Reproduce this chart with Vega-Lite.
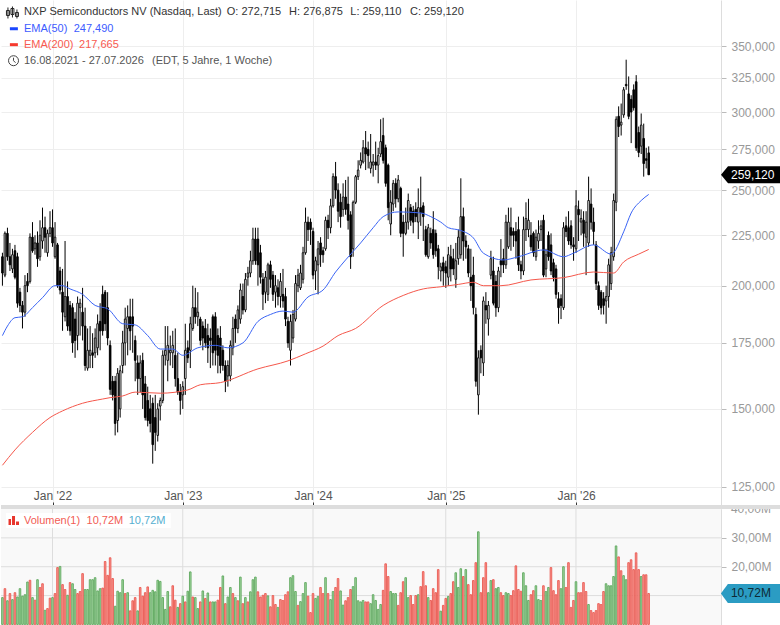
{
"$schema":"https://vega.github.io/schema/vega-lite/v6.json",
"padding":0,
"background":"#ffffff",
"spacing":0,
"bounds":"flush",
"config":{"view":{"stroke":null},"font":"Liberation Sans"},
"datasets":{
"weeks":[
{"w":"2021-08-16","o":214,"h":216,"l":200,"c":206,"v":9.3,"s":"g"},
{"w":"2021-08-23","o":205,"h":227,"l":204,"c":226,"v":12.4,"s":"r"},
{"w":"2021-08-30","o":226,"h":229,"l":212,"c":214,"v":8.2,"s":"g"},
{"w":"2021-09-06","o":214,"h":221,"l":207,"c":210,"v":10.7,"s":"r"},
{"w":"2021-09-13","o":208,"h":218,"l":206,"c":215,"v":8.6,"s":"g"},
{"w":"2021-09-20","o":217,"h":220,"l":203,"c":204,"v":11,"s":"r"},
{"w":"2021-09-27","o":214,"h":216,"l":190,"c":192,"v":9.5,"s":"g"},
{"w":"2021-10-04","o":197,"h":199,"l":188,"c":191,"v":12.4,"s":"g"},
{"w":"2021-10-11","o":191,"h":193,"l":181,"c":188,"v":9.8,"s":"g"},
{"w":"2021-10-18","o":188,"h":205,"l":186,"c":200,"v":10.3,"s":"g"},
{"w":"2021-10-25","o":202,"h":206,"l":197,"c":200,"v":14.7,"s":"g"},
{"w":"2021-11-01","o":202,"h":226,"l":201,"c":224,"v":15.3,"s":"r"},
{"w":"2021-11-08","o":224,"h":232,"l":216,"c":217,"v":9.3,"s":"g"},
{"w":"2021-11-15","o":218,"h":225,"l":215,"c":221,"v":8.4,"s":"r"},
{"w":"2021-11-22","o":221,"h":227,"l":209,"c":213,"v":15.5,"s":"g"},
{"w":"2021-11-29","o":214,"h":233,"l":212,"c":225,"v":12.8,"s":"r"},
{"w":"2021-12-06","o":222,"h":240,"l":218,"c":229,"v":14.1,"s":"r"},
{"w":"2021-12-13","o":229,"h":235,"l":216,"c":224,"v":4.9,"s":"g"},
{"w":"2021-12-20","o":216,"h":228,"l":214,"c":226,"v":5.5,"s":"r"},
{"w":"2021-12-27","o":226,"h":238,"l":224,"c":229,"v":9.1,"s":"r"},
{"w":"2022-01-03","o":229,"h":239,"l":219,"c":221,"v":9.3,"s":"g"},
{"w":"2022-01-10","o":214,"h":232,"l":213,"c":224,"v":10.7,"s":"r"},
{"w":"2022-01-17","o":220,"h":221,"l":199,"c":200,"v":19.7,"s":"r"},
{"w":"2022-01-24","o":207,"h":209,"l":196,"c":198,"v":20.1,"s":"g"},
{"w":"2022-01-31","o":197,"h":208,"l":180,"c":188,"v":13.8,"s":"r"},
{"w":"2022-02-07","o":186,"h":222,"l":184,"c":195,"v":12.1,"s":"r"},
{"w":"2022-02-14","o":195,"h":202,"l":180,"c":182,"v":10.1,"s":"g"},
{"w":"2022-02-21","o":191,"h":193,"l":178,"c":180,"v":14.5,"s":"r"},
{"w":"2022-02-28","o":190,"h":192,"l":171,"c":175,"v":14.1,"s":"g"},
{"w":"2022-03-07","o":185,"h":188,"l":169,"c":176,"v":12.1,"s":"g"},
{"w":"2022-03-14","o":178,"h":195,"l":172,"c":192,"v":10.7,"s":"r"},
{"w":"2022-03-21","o":190,"h":194,"l":178,"c":192,"v":11.4,"s":"r"},
{"w":"2022-03-28","o":188,"h":199,"l":176,"c":182,"v":17.6,"s":"r"},
{"w":"2022-04-04","o":182,"h":190,"l":164,"c":166,"v":12.1,"s":"g"},
{"w":"2022-04-11","o":165,"h":181,"l":164,"c":172,"v":12.1,"s":"g"},
{"w":"2022-04-18","o":170,"h":182,"l":165,"c":172,"v":15.5,"s":"g"},
{"w":"2022-04-25","o":171,"h":179,"l":165,"c":170,"v":15.5,"s":"g"},
{"w":"2022-05-02","o":171,"h":181,"l":169,"c":177,"v":16.2,"s":"g"},
{"w":"2022-05-09","o":173,"h":187,"l":170,"c":183,"v":11.6,"s":"g"},
{"w":"2022-05-16","o":184,"h":192,"l":172,"c":180,"v":12.4,"s":"g"},
{"w":"2022-05-23","o":196,"h":200,"l":178,"c":180,"v":12.6,"s":"r"},
{"w":"2022-05-30","o":197,"h":198,"l":180,"c":183,"v":21.8,"s":"r"},
{"w":"2022-06-06","o":190,"h":197,"l":174,"c":177,"v":17,"s":"r"},
{"w":"2022-06-13","o":174,"h":176,"l":155,"c":157,"v":23.1,"s":"r"},
{"w":"2022-06-20","o":160,"h":162,"l":153,"c":155,"v":15.9,"s":"r"},
{"w":"2022-06-27","o":160,"h":162,"l":141,"c":145,"v":6.3,"s":"g"},
{"w":"2022-07-04","o":146,"h":165,"l":142,"c":163,"v":11.5,"s":"g"},
{"w":"2022-07-11","o":150,"h":166,"l":147,"c":164,"v":11,"s":"g"},
{"w":"2022-07-18","o":166,"h":180,"l":163,"c":175,"v":15.5,"s":"g"},
{"w":"2022-07-25","o":175,"h":190,"l":166,"c":185,"v":10.7,"s":"r"},
{"w":"2022-08-01","o":181,"h":191,"l":170,"c":186,"v":11,"s":"g"},
{"w":"2022-08-08","o":186,"h":194,"l":172,"c":180,"v":4.7,"s":"r"},
{"w":"2022-08-15","o":186,"h":194,"l":171,"c":182,"v":8.2,"s":"r"},
{"w":"2022-08-22","o":176,"h":178,"l":160,"c":168,"v":9.3,"s":"r"},
{"w":"2022-08-29","o":167,"h":170,"l":155,"c":161,"v":4.7,"s":"g"},
{"w":"2022-09-05","o":161,"h":170,"l":156,"c":167,"v":12.8,"s":"r"},
{"w":"2022-09-12","o":168,"h":171,"l":150,"c":155,"v":9.8,"s":"r"},
{"w":"2022-09-19","o":159,"h":162,"l":146,"c":147,"v":11,"s":"r"},
{"w":"2022-09-26","o":153,"h":158,"l":144,"c":146,"v":13,"s":"r"},
{"w":"2022-10-03","o":150,"h":155,"l":142,"c":145,"v":11,"s":"g"},
{"w":"2022-10-10","o":152,"h":154,"l":132,"c":138,"v":11.8,"s":"g"},
{"w":"2022-10-17","o":147,"h":155,"l":136,"c":142,"v":11.3,"s":"g"},
{"w":"2022-10-24","o":141,"h":152,"l":139,"c":150,"v":15.3,"s":"g"},
{"w":"2022-10-31","o":151,"h":154,"l":146,"c":153,"v":14.9,"s":"g"},
{"w":"2022-11-07","o":153,"h":172,"l":152,"c":170,"v":9.3,"s":"g"},
{"w":"2022-11-14","o":170,"h":182,"l":166,"c":172,"v":5.2,"s":"g"},
{"w":"2022-11-21","o":168,"h":182,"l":160,"c":174,"v":11.4,"s":"g"},
{"w":"2022-11-28","o":171,"h":178,"l":166,"c":172,"v":6.1,"s":"r"},
{"w":"2022-12-05","o":171,"h":180,"l":165,"c":174,"v":13.4,"s":"r"},
{"w":"2022-12-12","o":170,"h":181,"l":158,"c":161,"v":8.4,"s":"r"},
{"w":"2022-12-19","o":161,"h":171,"l":155,"c":156,"v":5.9,"s":"g"},
{"w":"2022-12-26","o":156,"h":159,"l":148,"c":153,"v":7.2,"s":"r"},
{"w":"2023-01-02","o":155,"h":160,"l":150,"c":158,"v":9.8,"s":"g"},
{"w":"2023-01-09","o":161,"h":183,"l":155,"c":172,"v":7.8,"s":"r"},
{"w":"2023-01-16","o":173,"h":176,"l":167,"c":169,"v":11.5,"s":"g"},
{"w":"2023-01-23","o":172,"h":186,"l":165,"c":183,"v":18.2,"s":"g"},
{"w":"2023-01-30","o":181,"h":200,"l":180,"c":190,"v":9.5,"s":"r"},
{"w":"2023-02-06","o":190,"h":199,"l":183,"c":186,"v":9.3,"s":"g"},
{"w":"2023-02-13","o":186,"h":197,"l":182,"c":188,"v":5.5,"s":"g"},
{"w":"2023-02-20","o":185,"h":186,"l":174,"c":176,"v":7.8,"s":"r"},
{"w":"2023-02-27","o":182,"h":184,"l":172,"c":177,"v":11.6,"s":"g"},
{"w":"2023-03-06","o":181,"h":185,"l":173,"c":175,"v":9,"s":"r"},
{"w":"2023-03-13","o":178,"h":183,"l":167,"c":173,"v":10.9,"s":"g"},
{"w":"2023-03-20","o":177,"h":181,"l":165,"c":176,"v":7.8,"s":"r"},
{"w":"2023-03-27","o":186,"h":187,"l":166,"c":171,"v":7.8,"s":"g"},
{"w":"2023-04-03","o":186,"h":188,"l":166,"c":172,"v":7.8,"s":"g"},
{"w":"2023-04-10","o":178,"h":181,"l":163,"c":170,"v":8.4,"s":"r"},
{"w":"2023-04-17","o":177,"h":182,"l":163,"c":166,"v":12.8,"s":"r"},
{"w":"2023-04-24","o":172,"h":174,"l":164,"c":166,"v":16.8,"s":"g"},
{"w":"2023-05-01","o":166,"h":168,"l":156,"c":160,"v":7.2,"s":"r"},
{"w":"2023-05-08","o":162,"h":168,"l":158,"c":166,"v":9.5,"s":"g"},
{"w":"2023-05-15","o":162,"h":176,"l":160,"c":174,"v":12.8,"s":"g"},
{"w":"2023-05-22","o":173,"h":186,"l":170,"c":181,"v":10.7,"s":"r"},
{"w":"2023-05-29","o":185,"h":187,"l":175,"c":181,"v":9.3,"s":"g"},
{"w":"2023-06-05","o":181,"h":191,"l":179,"c":189,"v":8.2,"s":"r"},
{"w":"2023-06-12","o":185,"h":201,"l":183,"c":198,"v":16.4,"s":"g"},
{"w":"2023-06-19","o":195,"h":201,"l":187,"c":189,"v":7.2,"s":"r"},
{"w":"2023-06-26","o":189,"h":206,"l":188,"c":203,"v":9.3,"s":"g"},
{"w":"2023-07-03","o":204,"h":209,"l":200,"c":206,"v":7.8,"s":"r"},
{"w":"2023-07-10","o":206,"h":217,"l":204,"c":212,"v":11.3,"s":"g"},
{"w":"2023-07-17","o":212,"h":229,"l":210,"c":223,"v":15.5,"s":"g"},
{"w":"2023-07-24","o":223,"h":229,"l":210,"c":212,"v":16.4,"s":"g"},
{"w":"2023-07-31","o":223,"h":229,"l":200,"c":210,"v":11.3,"s":"r"},
{"w":"2023-08-07","o":216,"h":220,"l":201,"c":204,"v":9.5,"s":"r"},
{"w":"2023-08-14","o":203,"h":206,"l":189,"c":196,"v":10.1,"s":"r"},
{"w":"2023-08-21","o":197,"h":207,"l":192,"c":204,"v":10.7,"s":"r"},
{"w":"2023-08-28","o":196,"h":211,"l":193,"c":210,"v":9.9,"s":"g"},
{"w":"2023-09-04","o":210,"h":212,"l":199,"c":203,"v":6.1,"s":"r"},
{"w":"2023-09-11","o":205,"h":207,"l":193,"c":196,"v":10,"s":"r"},
{"w":"2023-09-18","o":197,"h":205,"l":190,"c":200,"v":6.9,"s":"r"},
{"w":"2023-09-25","o":199,"h":203,"l":191,"c":195,"v":5.9,"s":"g"},
{"w":"2023-10-02","o":195,"h":206,"l":190,"c":202,"v":8.6,"s":"r"},
{"w":"2023-10-09","o":196,"h":208,"l":190,"c":193,"v":8.3,"s":"r"},
{"w":"2023-10-16","o":195,"h":199,"l":182,"c":185,"v":10.3,"s":"r"},
{"w":"2023-10-23","o":184,"h":186,"l":173,"c":175,"v":11.3,"s":"r"},
{"w":"2023-10-30","o":172,"h":187,"l":166,"c":184,"v":16.2,"s":"g"},
{"w":"2023-11-06","o":177,"h":189,"l":175,"c":187,"v":16.9,"s":"g"},
{"w":"2023-11-13","o":185,"h":205,"l":184,"c":201,"v":11.4,"s":"g"},
{"w":"2023-11-20","o":200,"h":208,"l":197,"c":205,"v":6.6,"s":"r"},
{"w":"2023-11-27","o":199,"h":210,"l":198,"c":206,"v":7.9,"s":"g"},
{"w":"2023-12-04","o":203,"h":219,"l":201,"c":216,"v":10.7,"s":"g"},
{"w":"2023-12-11","o":216,"h":240,"l":215,"c":232,"v":14.5,"s":"g"},
{"w":"2023-12-18","o":232,"h":235,"l":222,"c":228,"v":9.8,"s":"r"},
{"w":"2023-12-25","o":232,"h":234,"l":220,"c":228,"v":4.1,"s":"r"},
{"w":"2024-01-01","o":227,"h":229,"l":203,"c":205,"v":10.7,"s":"r"},
{"w":"2024-01-08","o":207,"h":214,"l":198,"c":212,"v":9,"s":"g"},
{"w":"2024-01-15","o":210,"h":222,"l":196,"c":218,"v":9.7,"s":"g"},
{"w":"2024-01-22","o":221,"h":224,"l":209,"c":215,"v":12.8,"s":"r"},
{"w":"2024-01-29","o":217,"h":219,"l":211,"c":215,"v":10.7,"s":"r"},
{"w":"2024-02-05","o":218,"h":235,"l":217,"c":233,"v":16.2,"s":"g"},
{"w":"2024-02-12","o":233,"h":236,"l":223,"c":229,"v":10.7,"s":"r"},
{"w":"2024-02-19","o":229,"h":245,"l":226,"c":241,"v":8.6,"s":"g"},
{"w":"2024-02-26","o":241,"h":260,"l":240,"c":258,"v":11.4,"s":"g"},
{"w":"2024-03-04","o":258,"h":267,"l":245,"c":250,"v":12.8,"s":"r"},
{"w":"2024-03-11","o":250,"h":254,"l":232,"c":238,"v":15.9,"s":"r"},
{"w":"2024-03-18","o":243,"h":248,"l":229,"c":235,"v":11.6,"s":"g"},
{"w":"2024-03-25","o":239,"h":254,"l":235,"c":246,"v":6.7,"s":"g"},
{"w":"2024-04-01","o":246,"h":256,"l":236,"c":239,"v":8.2,"s":"r"},
{"w":"2024-04-08","o":242,"h":258,"l":228,"c":233,"v":9.3,"s":"r"},
{"w":"2024-04-15","o":236,"h":238,"l":208,"c":214,"v":12.1,"s":"r"},
{"w":"2024-04-22","o":218,"h":244,"l":214,"c":243,"v":13.1,"s":"g"},
{"w":"2024-04-29","o":243,"h":259,"l":242,"c":258,"v":16.2,"s":"g"},
{"w":"2024-05-06","o":258,"h":268,"l":256,"c":262,"v":8.2,"s":"g"},
{"w":"2024-05-13","o":265,"h":273,"l":263,"c":268,"v":7.8,"s":"g"},
{"w":"2024-05-20","o":267,"h":281,"l":266,"c":276,"v":8.3,"s":"g"},
{"w":"2024-05-27","o":276,"h":287,"l":262,"c":272,"v":7.8,"s":"r"},
{"w":"2024-06-03","o":275,"h":280,"l":263,"c":271,"v":7.8,"s":"r"},
{"w":"2024-06-10","o":263,"h":285,"l":260,"c":267,"v":7.2,"s":"g"},
{"w":"2024-06-17","o":265,"h":272,"l":258,"c":267,"v":10.3,"s":"g"},
{"w":"2024-06-24","o":267,"h":280,"l":262,"c":265,"v":8.3,"s":"g"},
{"w":"2024-07-01","o":265,"h":276,"l":254,"c":271,"v":5.2,"s":"g"},
{"w":"2024-07-08","o":272,"h":295,"l":270,"c":280,"v":6.9,"s":"g"},
{"w":"2024-07-15","o":284,"h":296,"l":266,"c":268,"v":11.8,"s":"r"},
{"w":"2024-07-22","o":276,"h":278,"l":252,"c":254,"v":21,"s":"r"},
{"w":"2024-07-29","o":265,"h":266,"l":233,"c":240,"v":16.6,"s":"r"},
{"w":"2024-08-05","o":231,"h":250,"l":225,"c":243,"v":11.4,"s":"g"},
{"w":"2024-08-12","o":242,"h":256,"l":238,"c":254,"v":10.7,"s":"g"},
{"w":"2024-08-19","o":254,"h":257,"l":240,"c":245,"v":10.7,"s":"g"},
{"w":"2024-08-26","o":245,"h":259,"l":243,"c":256,"v":6.6,"s":"r"},
{"w":"2024-09-02","o":251,"h":252,"l":224,"c":226,"v":11,"s":"r"},
{"w":"2024-09-09","o":232,"h":236,"l":214,"c":226,"v":14.8,"s":"r"},
{"w":"2024-09-16","o":226,"h":240,"l":225,"c":232,"v":16.2,"s":"g"},
{"w":"2024-09-23","o":232,"h":248,"l":228,"c":244,"v":9.3,"s":"g"},
{"w":"2024-09-30","o":240,"h":242,"l":230,"c":233,"v":10,"s":"r"},
{"w":"2024-10-07","o":238,"h":241,"l":226,"c":232,"v":6.9,"s":"r"},
{"w":"2024-10-14","o":239,"h":243,"l":232,"c":235,"v":10,"s":"r"},
{"w":"2024-10-21","o":232,"h":251,"l":223,"c":240,"v":10.3,"s":"g"},
{"w":"2024-10-28","o":240,"h":258,"l":230,"c":237,"v":13.1,"s":"r"},
{"w":"2024-11-04","o":241,"h":243,"l":222,"c":235,"v":18.3,"s":"r"},
{"w":"2024-11-11","o":228,"h":230,"l":214,"c":215,"v":13.4,"s":"r"},
{"w":"2024-11-18","o":214,"h":231,"l":213,"c":229,"v":9.3,"s":"g"},
{"w":"2024-11-25","o":226,"h":229,"l":218,"c":221,"v":8.3,"s":"r"},
{"w":"2024-12-02","o":228,"h":238,"l":213,"c":215,"v":12.4,"s":"r"},
{"w":"2024-12-09","o":226,"h":228,"l":214,"c":217,"v":11,"s":"r"},
{"w":"2024-12-16","o":218,"h":220,"l":203,"c":209,"v":19,"s":"r"},
{"w":"2024-12-23","o":207,"h":211,"l":202,"c":209,"v":4.6,"s":"g"},
{"w":"2024-12-30","o":211,"h":214,"l":200,"c":207,"v":6.6,"s":"r"},
{"w":"2025-01-06","o":209,"h":212,"l":199,"c":206,"v":9,"s":"r"},
{"w":"2025-01-13","o":204,"h":219,"l":200,"c":215,"v":9.7,"s":"g"},
{"w":"2025-01-20","o":214,"h":220,"l":202,"c":208,"v":10.7,"s":"r"},
{"w":"2025-01-27","o":213,"h":218,"l":205,"c":208,"v":14.8,"s":"r"},
{"w":"2025-02-03","o":203,"h":221,"l":199,"c":212,"v":17.9,"s":"g"},
{"w":"2025-02-10","o":213,"h":228,"l":210,"c":224,"v":12.8,"s":"g"},
{"w":"2025-02-17","o":215,"h":257,"l":213,"c":235,"v":19.3,"s":"g"},
{"w":"2025-02-24","o":235,"h":240,"l":212,"c":222,"v":16.6,"s":"r"},
{"w":"2025-03-03","o":222,"h":225,"l":213,"c":219,"v":19,"s":"g"},
{"w":"2025-03-10","o":218,"h":220,"l":204,"c":206,"v":13.8,"s":"r"},
{"w":"2025-03-17","o":204,"h":218,"l":193,"c":200,"v":10.3,"s":"r"},
{"w":"2025-03-24","o":205,"h":214,"l":187,"c":190,"v":15.2,"s":"r"},
{"w":"2025-03-31","o":187,"h":190,"l":158,"c":160,"v":21.4,"s":"r"},
{"w":"2025-04-07","o":155,"h":172,"l":148,"c":169,"v":32.1,"s":"g"},
{"w":"2025-04-14","o":172,"h":174,"l":163,"c":169,"v":11,"s":"r"},
{"w":"2025-04-21","o":167,"h":195,"l":162,"c":193,"v":16.2,"s":"r"},
{"w":"2025-04-28","o":191,"h":197,"l":183,"c":189,"v":21.4,"s":"r"},
{"w":"2025-05-05","o":185,"h":193,"l":178,"c":191,"v":11,"s":"g"},
{"w":"2025-05-12","o":205,"h":217,"l":203,"c":213,"v":15.2,"s":"g"},
{"w":"2025-05-19","o":207,"h":214,"l":191,"c":192,"v":15.5,"s":"r"},
{"w":"2025-05-26","o":202,"h":205,"l":186,"c":190,"v":12.4,"s":"g"},
{"w":"2025-06-02","o":190,"h":209,"l":188,"c":207,"v":12.8,"s":"g"},
{"w":"2025-06-09","o":212,"h":223,"l":204,"c":210,"v":11,"s":"r"},
{"w":"2025-06-16","o":213,"h":218,"l":206,"c":210,"v":10,"s":"r"},
{"w":"2025-06-23","o":210,"h":236,"l":208,"c":232,"v":11,"s":"g"},
{"w":"2025-06-30","o":219,"h":240,"l":218,"c":232,"v":10.7,"s":"g"},
{"w":"2025-07-07","o":229,"h":240,"l":217,"c":225,"v":10,"s":"r"},
{"w":"2025-07-14","o":227,"h":229,"l":219,"c":225,"v":11.7,"s":"r"},
{"w":"2025-07-21","o":227,"h":232,"l":213,"c":222,"v":20.3,"s":"r"},
{"w":"2025-07-28","o":228,"h":235,"l":207,"c":210,"v":12.1,"s":"r"},
{"w":"2025-08-04","o":210,"h":212,"l":203,"c":207,"v":11.5,"s":"r"},
{"w":"2025-08-11","o":207,"h":235,"l":205,"c":228,"v":17.9,"s":"g"},
{"w":"2025-08-18","o":228,"h":243,"l":222,"c":234,"v":13.4,"s":"g"},
{"w":"2025-08-25","o":228,"h":245,"l":224,"c":233,"v":8.3,"s":"g"},
{"w":"2025-09-01","o":225,"h":232,"l":217,"c":219,"v":10.3,"s":"r"},
{"w":"2025-09-08","o":226,"h":227,"l":214,"c":216,"v":11.7,"s":"r"},
{"w":"2025-09-15","o":214,"h":228,"l":212,"c":224,"v":13.4,"s":"g"},
{"w":"2025-09-22","o":222,"h":233,"l":218,"c":226,"v":8.6,"s":"g"},
{"w":"2025-09-29","o":228,"h":233,"l":222,"c":230,"v":8.3,"s":"g"},
{"w":"2025-10-06","o":233,"h":236,"l":204,"c":205,"v":13.4,"s":"r"},
{"w":"2025-10-13","o":208,"h":218,"l":204,"c":215,"v":11.4,"s":"g"},
{"w":"2025-10-20","o":225,"h":227,"l":212,"c":214,"v":12.8,"s":"g"},
{"w":"2025-10-27","o":220,"h":226,"l":205,"c":207,"v":19.7,"s":"r"},
{"w":"2025-11-03","o":211,"h":213,"l":202,"c":204,"v":11.7,"s":"r"},
{"w":"2025-11-10","o":208,"h":210,"l":194,"c":196,"v":10.3,"s":"r"},
{"w":"2025-11-17","o":194,"h":197,"l":183,"c":190,"v":15.2,"s":"r"},
{"w":"2025-11-24","o":194,"h":196,"l":185,"c":191,"v":12.4,"s":"g"},
{"w":"2025-12-01","o":190,"h":232,"l":189,"c":229,"v":20,"s":"g"},
{"w":"2025-12-08","o":230,"h":235,"l":224,"c":227,"v":12.8,"s":"r"},
{"w":"2025-12-15","o":229,"h":238,"l":220,"c":222,"v":21.4,"s":"r"},
{"w":"2025-12-22","o":230,"h":233,"l":218,"c":220,"v":5.9,"s":"r"},
{"w":"2025-12-29","o":220,"h":224,"l":212,"c":219,"v":8.3,"s":"r"},
{"w":"2026-01-05","o":218,"h":250,"l":216,"c":241,"v":14.8,"s":"g"},
{"w":"2026-01-12","o":239,"h":244,"l":222,"c":236,"v":11,"s":"r"},
{"w":"2026-01-19","o":232,"h":239,"l":225,"c":234,"v":11,"s":"r"},
{"w":"2026-01-26","o":233,"h":238,"l":219,"c":226,"v":14.5,"s":"r"},
{"w":"2026-02-02","o":224,"h":238,"l":205,"c":232,"v":11.4,"s":"r"},
{"w":"2026-02-09","o":221,"h":258,"l":219,"c":244,"v":6.9,"s":"g"},
{"w":"2026-02-16","o":242,"h":251,"l":228,"c":232,"v":4.8,"s":"r"},
{"w":"2026-02-23","o":232,"h":240,"l":220,"c":227,"v":4.1,"s":"r"},
{"w":"2026-03-02","o":220,"h":222,"l":198,"c":201,"v":4.8,"s":"r"},
{"w":"2026-03-09","o":200,"h":202,"l":189,"c":191,"v":7.2,"s":"r"},
{"w":"2026-03-16","o":197,"h":198,"l":187,"c":190,"v":6.9,"s":"r"},
{"w":"2026-03-23","o":194,"h":197,"l":187,"c":191,"v":11.4,"s":"r"},
{"w":"2026-03-30","o":193,"h":200,"l":183,"c":195,"v":14.1,"s":"g"},
{"w":"2026-04-06","o":195,"h":213,"l":190,"c":210,"v":13.4,"s":"g"},
{"w":"2026-04-13","o":201,"h":219,"l":198,"c":216,"v":13.4,"s":"g"},
{"w":"2026-04-20","o":214,"h":248,"l":212,"c":244,"v":16.6,"s":"g"},
{"w":"2026-04-27","o":243,"h":297,"l":238,"c":295,"v":27.2,"s":"g"},
{"w":"2026-05-04","o":297,"h":304,"l":283,"c":290,"v":23.4,"s":"r"},
{"w":"2026-05-11","o":291,"h":306,"l":284,"c":293,"v":18.6,"s":"r"},
{"w":"2026-05-18","o":298,"h":318,"l":296,"c":316,"v":16.9,"s":"g"},
{"w":"2026-05-25","o":320,"h":339,"l":316,"c":319,"v":15.5,"s":"g"},
{"w":"2026-06-01","o":313,"h":326,"l":295,"c":297,"v":21.4,"s":"r"},
{"w":"2026-06-08","o":309,"h":312,"l":279,"c":300,"v":22.4,"s":"r"},
{"w":"2026-06-15","o":316,"h":320,"l":301,"c":303,"v":19,"s":"r"},
{"w":"2026-06-22","o":322,"h":327,"l":274,"c":276,"v":24.8,"s":"r"},
{"w":"2026-06-29","o":286,"h":290,"l":270,"c":273,"v":19,"s":"r"},
{"w":"2026-07-06","o":277,"h":299,"l":272,"c":291,"v":16.6,"s":"g"},
{"w":"2026-07-13","o":282,"h":292,"l":258,"c":266,"v":17.2,"s":"r"},
{"w":"2026-07-20","o":269,"h":276,"l":263,"c":268,"v":17.2,"s":"r"},
{"w":"2026-07-27","o":272.715,"h":276.875,"l":259.11,"c":259.12,"v":10.72,"s":"r"}
],
"ema50":[
{"w":"2021-08-16","p":178},{"w":"2021-08-30","p":182},{"w":"2021-09-20","p":185.6},{"w":"2021-10-11","p":186},{"w":"2021-11-08","p":190},{"w":"2021-12-06","p":194.5},{"w":"2022-01-10","p":200},{"w":"2022-01-31","p":200},{"w":"2022-02-21","p":198.5},{"w":"2022-03-28","p":196},{"w":"2022-05-02","p":191},{"w":"2022-06-06","p":189.5},{"w":"2022-07-18","p":183},{"w":"2022-08-22","p":182.5},{"w":"2022-09-26","p":178},{"w":"2022-10-31","p":172.5},{"w":"2022-12-05","p":172.5},{"w":"2023-01-02","p":170},{"w":"2023-02-13","p":173},{"w":"2023-04-03","p":174},{"w":"2023-05-08","p":173},{"w":"2023-06-19","p":175},{"w":"2023-07-31","p":184},{"w":"2023-09-04","p":187},{"w":"2023-10-09","p":188.5},{"w":"2023-11-06","p":188},{"w":"2023-12-18","p":194.8},{"w":"2024-01-29","p":198},{"w":"2024-03-04","p":206.5},{"w":"2024-04-01","p":212.4},{"w":"2024-05-13","p":221},{"w":"2024-06-17","p":229},{"w":"2024-07-15","p":235},{"w":"2024-08-26","p":237.6},{"w":"2024-10-28","p":237},{"w":"2024-11-25","p":235},{"w":"2024-12-23","p":232},{"w":"2025-01-13","p":229},{"w":"2025-02-17","p":227.5},{"w":"2025-03-24","p":223.6},{"w":"2025-04-21","p":215.8},{"w":"2025-06-16","p":212.4},{"w":"2025-07-28","p":214},{"w":"2025-10-06","p":217.4},{"w":"2025-12-01","p":214},{"w":"2025-12-29","p":215.8},{"w":"2026-02-23","p":220},{"w":"2026-04-13","p":215.3},{"w":"2026-05-18","p":226.8},{"w":"2026-06-08","p":237},{"w":"2026-07-06","p":244},{"w":"2026-07-27","p":247.49}
],
"ema200":[
{"w":"2021-08-16","p":131.5},{"w":"2021-09-20","p":136.3},{"w":"2021-11-08","p":142},{"w":"2021-12-27","p":147},{"w":"2022-01-31","p":149.3},{"w":"2022-03-28","p":152},{"w":"2022-05-23","p":153.5},{"w":"2022-06-13","p":154},{"w":"2022-07-18","p":154.6},{"w":"2022-08-22","p":156},{"w":"2022-10-31","p":155.6},{"w":"2023-01-16","p":156.8},{"w":"2023-02-20","p":158.7},{"w":"2023-04-17","p":159.5},{"w":"2023-07-31","p":164.7},{"w":"2023-10-23","p":167.8},{"w":"2023-12-11","p":170.6},{"w":"2024-01-29","p":173.7},{"w":"2024-03-11","p":178},{"w":"2024-04-29","p":181},{"w":"2024-07-15","p":191},{"w":"2024-09-09","p":195.5},{"w":"2024-11-04","p":198.5},{"w":"2024-12-23","p":199.5},{"w":"2025-02-10","p":200.6},{"w":"2025-03-24","p":201.6},{"w":"2025-04-21","p":200},{"w":"2025-06-09","p":200},{"w":"2025-09-01","p":202.7},{"w":"2025-12-01","p":203.8},{"w":"2026-02-23","p":206.5},{"w":"2026-04-20","p":206},{"w":"2026-05-18","p":211.4},{"w":"2026-06-29","p":215.3},{"w":"2026-07-27","p":217.665}
],
"years":[{"w":"2022-01-03"},{"w":"2023-01-02"},{"w":"2024-01-01"},{"w":"2025-01-06"},{"w":"2026-01-05"}],
"levels":[{"m":10},{"m":20},{"m":30}]
},
"vconcat":[
{
"width":720,
"height":509,
"data":{"name":"weeks"},
"layer":[
{"mark":{"type":"rule","color":"#000000","strokeWidth":1},
"encoding":{
"x":{"field":"w","type":"temporal","title":null,
"scale":{"padding":0,"domain":[{"year":2021,"month":8,"date":12},{"year":2027,"month":2,"date":14}]},
"axis":{"values":[{"year":2022,"month":1,"date":3},{"year":2023,"month":1,"date":2},{"year":2024,"month":1,"date":1},{"year":2025,"month":1,"date":6},{"year":2026,"month":1,"date":5}],"format":"%b '%y","grid":true,"gridColor":"#eeeeee","domain":false,"offset":-4,"tickSize":-3,"tickColor":"#333333","labelColor":"#555555","labelFontSize":12,"labelPadding":-12,"labelFlush":false,"labelOverlap":false}},
"y":{"field":"l","type":"quantitative","title":null,
"scale":{"type":"log","domain":[118.74,389.7],"nice":false},
"axis":{"orient":"right","values":[125,150,175,200,225,250,275,300,325,350],"labelExpr":"replace(format(datum.value,'.3f'),'.',',')","grid":true,"gridColor":"#eeeeee","domainColor":"#dddddd","tickColor":"#bbbbbb","tickSize":5,"labelColor":"#999999","labelFontSize":12,"labelPadding":5,"labelOverlap":false}},
"y2":{"field":"h"}}},
{"mark":{"type":"bar","width":1.6,"stroke":"#000000","strokeWidth":0.9},
"encoding":{
"x":{"field":"w","type":"temporal"},
"y":{"field":"o","type":"quantitative"},
"y2":{"field":"c"},
"fill":{"condition":{"test":"datum.c<datum.o","value":"#000000"},"value":"#ffffff"}}},
{"data":{"name":"ema50"},"mark":{"type":"line","color":"#3a64f5","strokeWidth":1,"interpolate":"monotone"},
"encoding":{"x":{"field":"w","type":"temporal"},"y":{"field":"p","type":"quantitative"}}},
{"data":{"name":"ema200"},"mark":{"type":"line","color":"#f5574b","strokeWidth":1,"interpolate":"monotone"},
"encoding":{"x":{"field":"w","type":"temporal"},"y":{"field":"p","type":"quantitative"}}},
{"data":{"values":[{"t":"NXP Semiconductors NV (Nasdaq, Last)"}]},"mark":{"type":"text","align":"left","baseline":"middle","fontSize":11,"color":"#333333"},
"encoding":{"x":{"datum":{"year":2021,"month":10,"date":15},"type":"temporal"},"y":{"datum":378.5},"text":{"field":"t"}}},
{"data":{"values":[{"t":"O: 272,715"}]},"mark":{"type":"text","align":"left","baseline":"middle","fontSize":11,"color":"#333333"},
"encoding":{"x":{"datum":{"year":2023,"month":5,"date":5},"type":"temporal"},"y":{"datum":378.5},"text":{"field":"t"}}},
{"data":{"values":[{"t":"H: 276,875"}]},"mark":{"type":"text","align":"left","baseline":"middle","fontSize":11,"color":"#333333"},
"encoding":{"x":{"datum":{"year":2023,"month":10,"date":26},"type":"temporal"},"y":{"datum":378.5},"text":{"field":"t"}}},
{"data":{"values":[{"t":"L: 259,110"}]},"mark":{"type":"text","align":"left","baseline":"middle","fontSize":11,"color":"#333333"},
"encoding":{"x":{"datum":{"year":2024,"month":4,"date":14},"type":"temporal"},"y":{"datum":378.5},"text":{"field":"t"}}},
{"data":{"values":[{"t":"C: 259,120"}]},"mark":{"type":"text","align":"left","baseline":"middle","fontSize":11,"color":"#333333"},
"encoding":{"x":{"datum":{"year":2024,"month":9,"date":28},"type":"temporal"},"y":{"datum":378.5},"text":{"field":"t"}}},
{"data":{"values":[{"t":"EMA(50)"}]},"mark":{"type":"text","align":"left","baseline":"middle","fontSize":11,"color":"#3d5cff"},
"encoding":{"x":{"datum":{"year":2021,"month":10,"date":15},"type":"temporal"},"y":{"datum":364.4},"text":{"field":"t"}}},
{"data":{"values":[{"t":"247,490"}]},"mark":{"type":"text","align":"left","baseline":"middle","fontSize":11,"color":"#3d5cff"},
"encoding":{"x":{"datum":{"year":2022,"month":3,"date":3},"type":"temporal"},"y":{"datum":364.4},"text":{"field":"t"}}},
{"data":{"values":[{"t":"EMA(200)"}]},"mark":{"type":"text","align":"left","baseline":"middle","fontSize":11,"color":"#f85a50"},
"encoding":{"x":{"datum":{"year":2021,"month":10,"date":15},"type":"temporal"},"y":{"datum":351.1},"text":{"field":"t"}}},
{"data":{"values":[{"t":"217,665"}]},"mark":{"type":"text","align":"left","baseline":"middle","fontSize":11,"color":"#f85a50"},
"encoding":{"x":{"datum":{"year":2022,"month":3,"date":18},"type":"temporal"},"y":{"datum":351.1},"text":{"field":"t"}}},
{"data":{"values":[{"t":"16.08.2021 - 27.07.2026"}]},"mark":{"type":"text","align":"left","baseline":"middle","fontSize":11,"color":"#555555"},
"encoding":{"x":{"datum":{"year":2021,"month":10,"date":15},"type":"temporal"},"y":{"datum":338.2},"text":{"field":"t"}}},
{"data":{"values":[{"t":"(EDT, 5 Jahre, 1 Woche)"}]},"mark":{"type":"text","align":"left","baseline":"middle","fontSize":11,"color":"#555555"},
"encoding":{"x":{"datum":{"year":2022,"month":10,"date":8},"type":"temporal"},"y":{"datum":338.2},"text":{"field":"t"}}},
{"data":{"values":[{"t":"candles"}]},"mark":{"type":"point","size":4,"filled":false,"stroke":"#222222","strokeWidth":1,"opacity":1,"shape":"M-4.5,-5V6M0,-6V5M4.5,-3V6M-6,-2H-3V3H-6ZM-1.5,-4H1.5V2H-1.5ZM3,0H6V4H3Z"},
"encoding":{"x":{"datum":{"year":2021,"month":9,"date":13},"type":"temporal"},"y":{"datum":378.5}}},
{"data":{"values":[{"t":"ema50"}]},"mark":{"type":"point","size":4,"filled":true,"color":"#1a46ff","opacity":1,"shape":"M-4,-1.5H4V1.5H-4Z"},
"encoding":{"x":{"datum":{"year":2021,"month":9,"date":17},"type":"temporal"},"y":{"datum":364.4}}},
{"data":{"values":[{"t":"ema200"}]},"mark":{"type":"point","size":4,"filled":true,"color":"#f63a2e","opacity":1,"shape":"M-4,-1.5H4V1.5H-4Z"},
"encoding":{"x":{"datum":{"year":2021,"month":9,"date":17},"type":"temporal"},"y":{"datum":351.1}}},
{"data":{"values":[{"t":"clock"}]},"mark":{"type":"point","size":4,"filled":false,"stroke":"#444444","strokeWidth":1,"opacity":1,"shape":"M-5,0A5,5 0 1 1 5,0A5,5 0 1 1 -5,0ZM0,-3V0L2,2"},
"encoding":{"x":{"datum":{"year":2021,"month":9,"date":16},"type":"temporal"},"y":{"datum":338.2}}},
{"data":{"values":[{"c":259.12,"t":"259,120"}]},"mark":{"type":"point","size":4,"filled":true,"color":"#000000","opacity":1,"shape":"M0,0L7,-8.5L60,-8.5L60,8.5L7,8.5Z"},
"encoding":{"x":{"datum":{"year":2027,"month":2,"date":14},"type":"temporal"},"y":{"field":"c","type":"quantitative"}}},
{"data":{"values":[{"c":259.12,"t":"259,120"}]},"mark":{"type":"text","align":"left","baseline":"middle","fontSize":12,"color":"#ffffff"},
"encoding":{"x":{"datum":{"year":2027,"month":3,"date":14},"type":"temporal"},"y":{"field":"c","type":"quantitative"},"text":{"field":"t"}}},
{"data":{"values":[{"t":"separator"}]},"mark":{"type":"rect","color":"#dddddd"},
"encoding":{"x":{"datum":{"year":2021,"month":8,"date":12},"type":"temporal"},"x2":{"datum":{"year":2027,"month":8,"date":1}},"y":{"datum":119.85},"y2":{"datum":118.74}}}
]
},
{
"width":780,
"height":116,
"data":{"name":"weeks"},
"layer":[
{"data":{"name":"levels"},"mark":{"type":"rect","color":"#f9f9f9"},
"encoding":{
"x":{"datum":{"year":2021,"month":8,"date":12},"type":"temporal","title":null,"axis":null,
"scale":{"padding":0,"domain":[{"year":2021,"month":8,"date":12},{"year":2027,"month":8,"date":1}]}},
"x2":{"datum":{"year":2027,"month":2,"date":14}},
"y":{"datum":-0.2,"scale":{"domain":[-0.2,40],"nice":false,"zero":false}},
"y2":{"datum":40}}},
{"data":{"name":"levels"},"mark":{"type":"rule","color":"#dddddd","strokeWidth":1},
"encoding":{"x":{"datum":{"year":2021,"month":8,"date":12},"type":"temporal"},"x2":{"datum":{"year":2027,"month":2,"date":14}},
"y":{"field":"m","type":"quantitative","title":null,
"axis":{"title":null,"orient":"right","offset":-60,"values":[20,30],"labelExpr":"replace(format(datum.value,'.2f'),'.',',')+'M'","grid":false,"domainColor":"#dddddd","tickColor":"#bbbbbb","tickSize":5,"labelColor":"#999999","labelFontSize":12,"labelPadding":5,"labelOverlap":false}}}},
{"data":{"name":"years"},"mark":{"type":"rule","color":"#dddddd","strokeWidth":1},
"encoding":{"x":{"field":"w","type":"temporal","title":null}}},
{"mark":{"type":"bar","width":1.6,"strokeWidth":0.9},
"encoding":{
"x":{"field":"w","type":"temporal","title":null},
"y":{"field":"v","type":"quantitative","title":null},
"fill":{"field":"s","type":"nominal","legend":null,"scale":{"domain":["g","r"],"range":["#a3d6a0","#f9968f"]}},
"stroke":{"field":"s","type":"nominal","legend":null,"scale":{"domain":["g","r"],"range":["#5fa85f","#ea5a52"]}}}},
{"data":{"values":[{"t":"box"}]},"mark":{"type":"rect","color":"#ffffff","opacity":0.9},
"encoding":{"x":{"datum":{"year":2021,"month":8,"date":26},"type":"temporal"},"x2":{"datum":{"year":2022,"month":11,"date":30}},"y":{"datum":38.6},"y2":{"datum":33.4}}},
{"data":{"values":[{"t":"bars"}]},"mark":{"type":"point","size":4,"filled":true,"color":"#e8352c","opacity":1,"shape":"M-5,4.5H-2.5V-1.5H-5ZM-1.5,4.5H1.5V-4.5H-1.5ZM2.5,4.5H5.5V1H2.5Z"},
"encoding":{"x":{"datum":{"year":2021,"month":9,"date":16},"type":"temporal"},"y":{"datum":36}}},
{"data":{"values":[{"t":"Volumen(1)"}]},"mark":{"type":"text","align":"left","baseline":"middle","fontSize":11,"color":"#f25c54"},
"encoding":{"x":{"datum":{"year":2021,"month":10,"date":15},"type":"temporal"},"y":{"datum":36},"text":{"field":"t"}}},
{"data":{"values":[{"t":"10,72M"}]},"mark":{"type":"text","align":"left","baseline":"middle","fontSize":11,"color":"#f25c54"},
"encoding":{"x":{"datum":{"year":2022,"month":4,"date":8},"type":"temporal"},"y":{"datum":36},"text":{"field":"t"}}},
{"data":{"values":[{"t":"10,72M"}]},"mark":{"type":"text","align":"left","baseline":"middle","fontSize":11,"color":"#55aed0"},
"encoding":{"x":{"datum":{"year":2022,"month":8,"date":4},"type":"temporal"},"y":{"datum":36},"text":{"field":"t"}}},
{"data":{"values":[{"m":40,"t":"40,00M"}]},"mark":{"type":"text","align":"left","baseline":"middle","fontSize":12,"color":"#999999","clip":true},
"encoding":{"x":{"datum":{"year":2027,"month":3,"date":14},"type":"temporal"},"y":{"field":"m","type":"quantitative"},"text":{"field":"t"}}},
{"data":{"values":[{"m":10.72,"t":"10,72M"}]},"mark":{"type":"point","size":4,"filled":true,"color":"#2b9cc3","opacity":1,"shape":"M0,0L7,-9.5L60,-9.5L60,9.5L7,9.5Z"},
"encoding":{"x":{"datum":{"year":2027,"month":2,"date":14},"type":"temporal"},"y":{"field":"m","type":"quantitative"}}},
{"data":{"values":[{"m":10.72,"t":"10,72M"}]},"mark":{"type":"text","align":"left","baseline":"middle","fontSize":12,"color":"#0d2a35"},
"encoding":{"x":{"datum":{"year":2027,"month":3,"date":14},"type":"temporal"},"y":{"field":"m","type":"quantitative"},"text":{"field":"t"}}}
]
}
]
}
